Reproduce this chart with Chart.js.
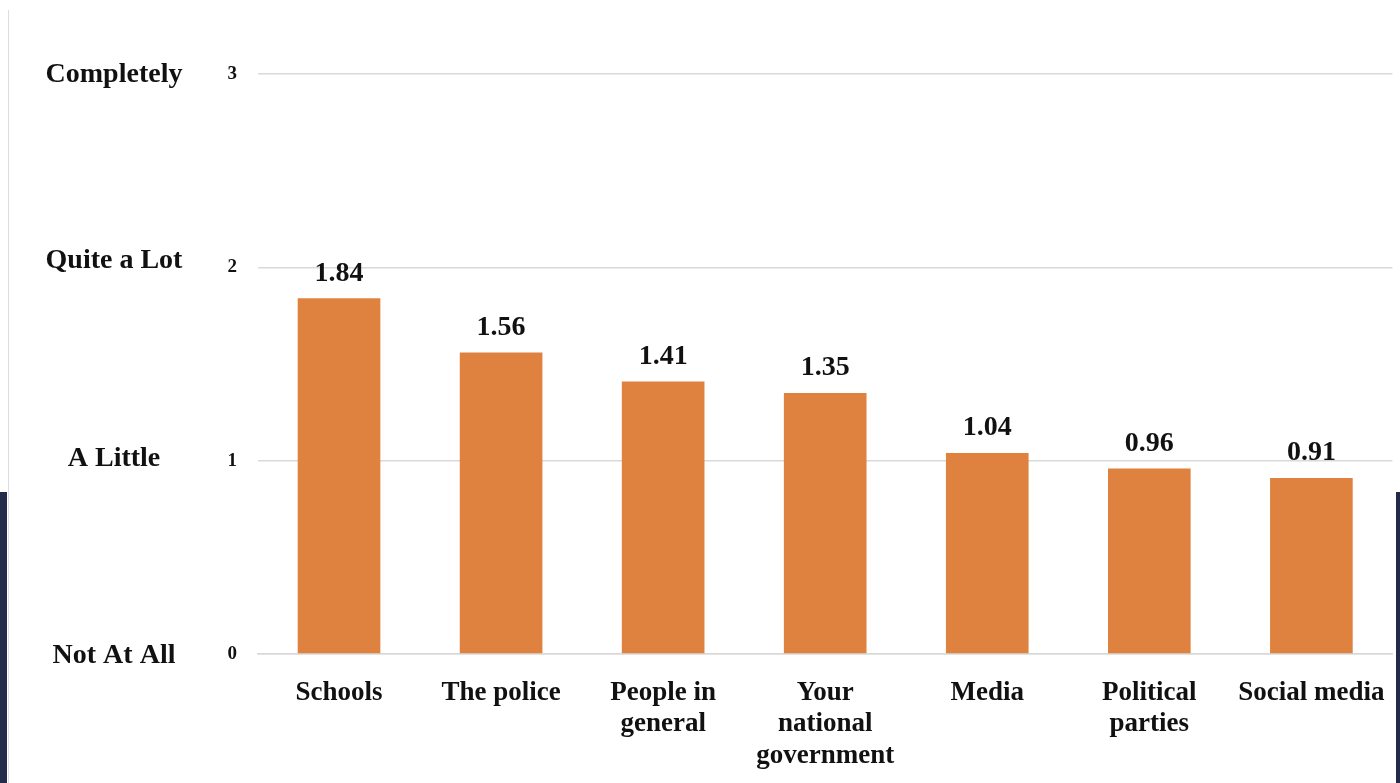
<!DOCTYPE html>
<html>
<head>
<meta charset="utf-8">
<script src="https://cdn.jsdelivr.net/npm/chart.js@4/dist/chart.umd.min.js"></script>
<style>
  html, body { margin: 0; padding: 0; background: #fff; overflow: hidden; }
  #wrap { position: relative; width: 1400px; height: 783px; }
  canvas { position: absolute; left: 0; top: 0; }
  .edge { position: absolute; background: #222c4a; }
  .rule { position: absolute; left: 8px; top: 10px; width: 1px; height: 773px; background: #dcdcdc; }
</style>
</head>
<body>
<div id="wrap">
  <canvas id="chart" width="1400" height="783"></canvas>
  <div class="rule"></div>
  <div class="edge" style="left:0;top:492px;width:7px;height:291px"></div>
  <div class="edge" style="left:1396px;top:492px;width:4px;height:291px"></div>
</div>
<script>
  // chart data
  const categories = ['Schools', 'The police', ['People in', 'general'], ['Your', 'national', 'government'], 'Media', ['Political', 'parties'], 'Social media'];
  const trustScores = [1.84, 1.56, 1.41, 1.35, 1.04, 0.96, 0.91];
  const levelNames = ['Not At All', 'A Little', 'Quite a Lot', 'Completely'];

  const serif = '"Liberation Serif", "Times New Roman", serif';
  const barColor = '#e0823f';

  // small vertical nudges so the word labels sit where the original has them
  const levelShift = [2, -2, -7, 1];

  // draws value labels above bars and the word labels next to the y ticks
  const labelsPlugin = {
    id: 'labelsPlugin',
    afterDatasetsDraw(chart){
      const { ctx } = chart;
      const meta = chart.getDatasetMeta(0);
      ctx.save();
      ctx.fillStyle = '#111';
      ctx.font = 'bold 28px ' + serif;
      ctx.textAlign = 'center';
      ctx.textBaseline = 'bottom';
      meta.data.forEach((bar, i) => {
        ctx.fillText(trustScores[i].toFixed(2), bar.x, bar.y - 11);
      });
      const y = chart.scales.y;
      ctx.font = 'bold 28px ' + serif;
      ctx.textBaseline = 'middle';
      levelNames.forEach((name, i) => {
        ctx.fillText(name, 114, y.getPixelForValue(i) + levelShift[i]);
      });
      ctx.restore();
    }
  };

  new Chart(document.getElementById('chart'), {
    type: 'bar',
    data: {
      labels: categories,
      datasets: [{
        data: trustScores,
        backgroundColor: barColor,
        borderWidth: 0,
        categoryPercentage: 1,
        barPercentage: 0.51
      }]
    },
    options: {
      responsive: false,
      animation: false,
      layout: { padding: { top: 74, right: 7, left: 0, bottom: 0 } },
      plugins: { legend: { display: false }, tooltip: { enabled: false } },
      scales: {
        y: {
          min: 0,
          max: 3,
          ticks: {
            stepSize: 1,
            color: '#111',
            padding: 21,
            font: { family: serif, size: 19, weight: 'bold' }
          },
          grid: { color: '#d9d9d9', lineWidth: 1.5, drawTicks: false },
          border: { display: false },
          afterFit(scale){ scale.width = 258; }
        },
        x: {
          ticks: {
            color: '#111',
            padding: 15,
            maxRotation: 0,
            autoSkip: false,
            font: { family: serif, size: 27, weight: 'bold', lineHeight: 1.17 }
          },
          grid: { display: false },
          border: { color: '#d9d9d9', width: 1.5 },
          afterFit(scale){ scale.height = 129; }
        }
      }
    },
    plugins: [labelsPlugin]
  });
</script>
</body>
</html>
